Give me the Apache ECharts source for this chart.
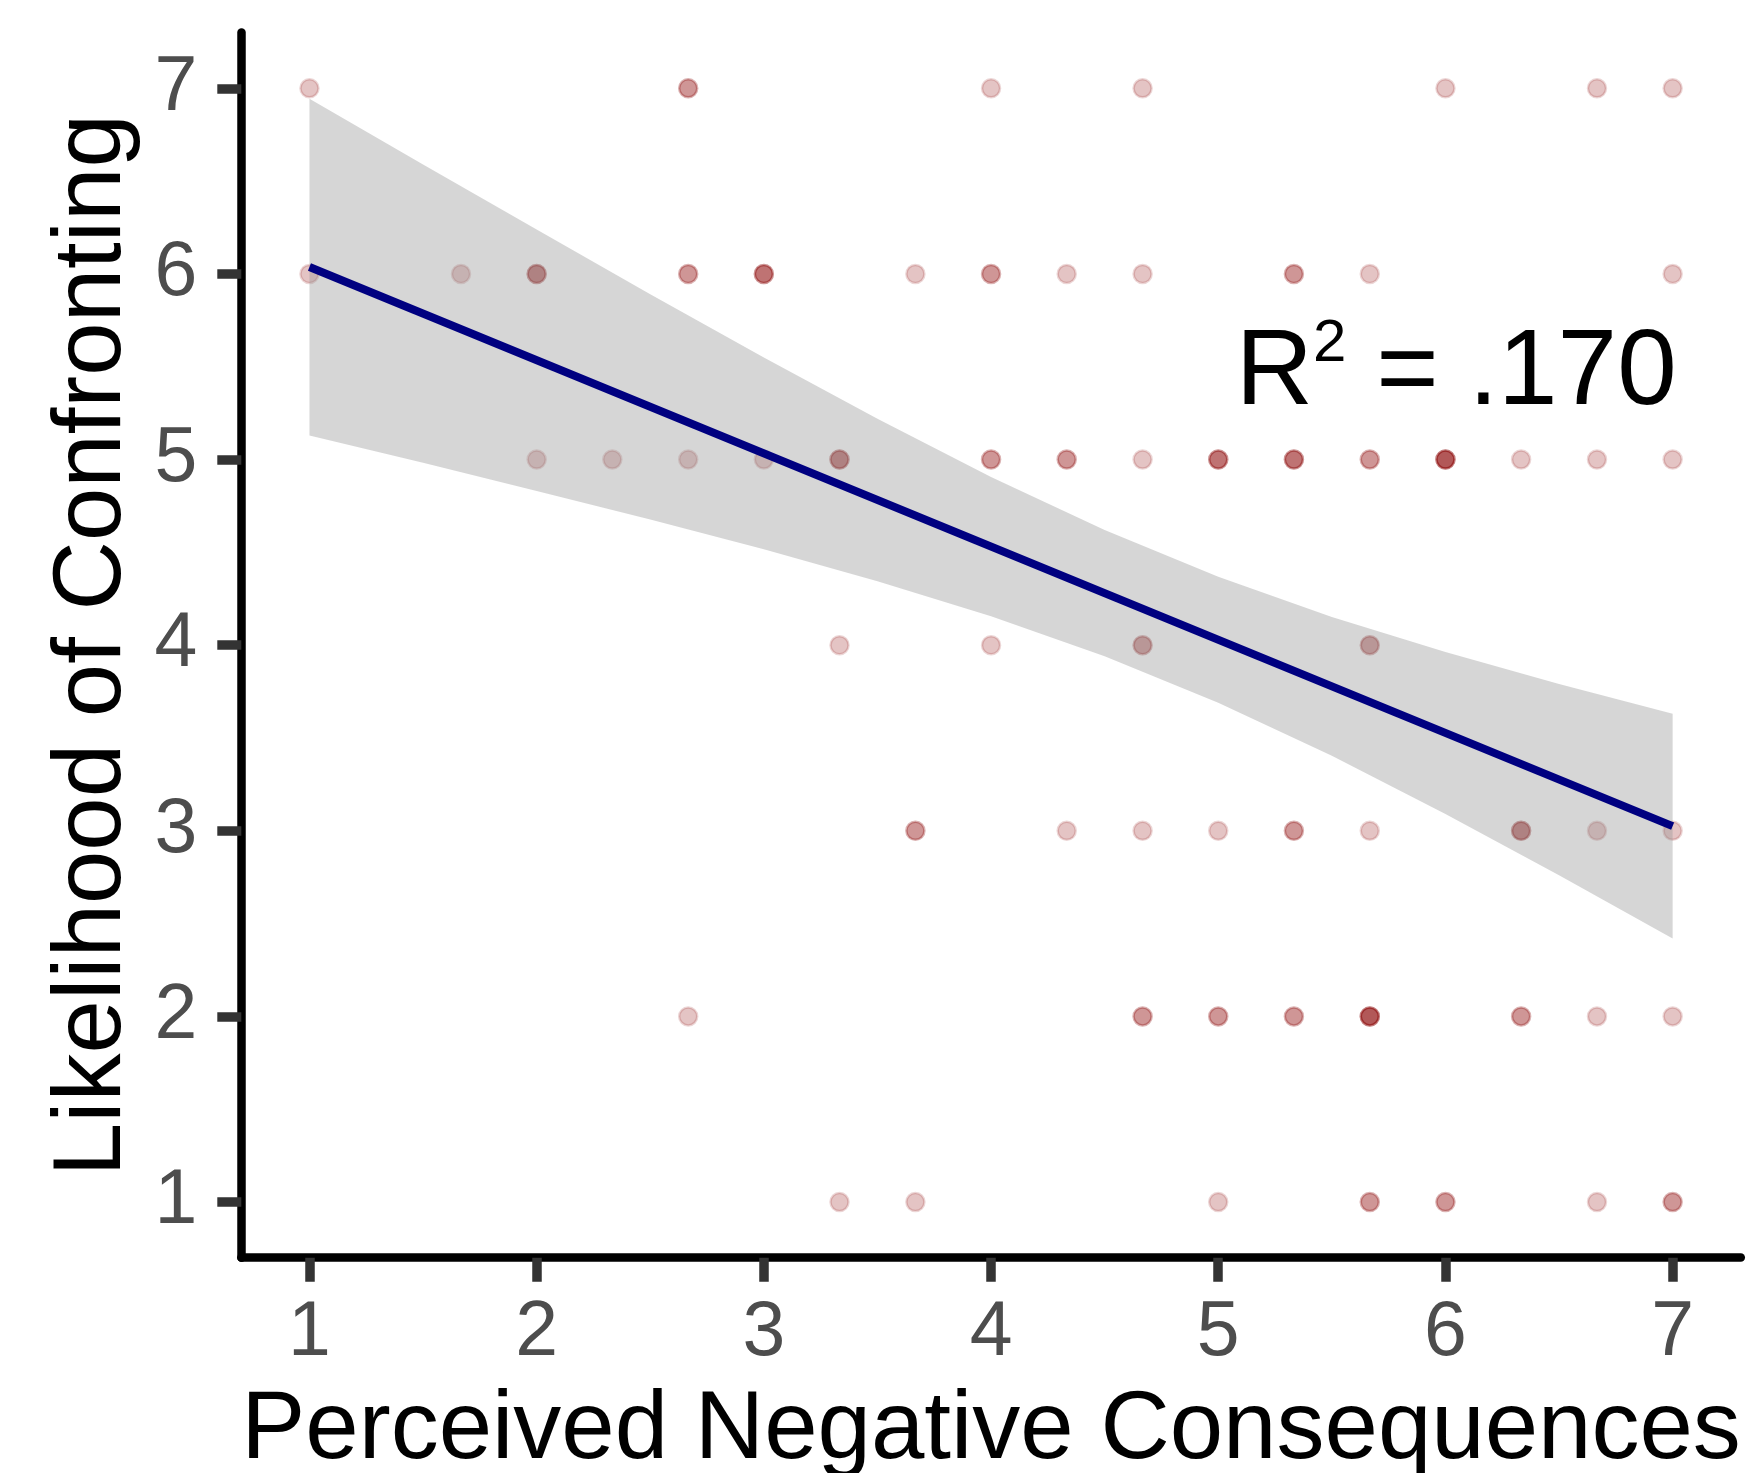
<!DOCTYPE html>
<html>
<head>
<meta charset="utf-8">
<script src="https://cdn.jsdelivr.net/npm/echarts@6/dist/echarts.min.js"></script>
<style>
html,body{margin:0;padding:0;background:#ffffff;}
#chart{width:1752px;height:1473px;}
</style>
</head>
<body>
<div id="chart"></div>
<script>
// ---- tick values / labels ----
const tickValues = [1, 2, 3, 4, 5, 6, 7];
const tickLabels = ['1', '2', '3', '4', '5', '6', '7'];

// ---- responses: Perceived Negative Consequences (x) for each Likelihood level (y) ----
// repeated values = overlapping respondents (darker dots)
const likelihoodLevels = [7, 6, 5, 4, 3, 2, 1];
const consequencesAt7 = [1, 2.667, 2.667, 4, 4.667, 6, 6.667, 7];
const consequencesAt6 = [1, 1.667, 2, 2, 2, 2.667, 2.667, 3, 3, 3, 3.667, 4, 4, 4.333, 4.667, 5.333, 5.333, 5.667, 7];
const consequencesAt5 = [2, 2.333, 2.667, 3, 3.333, 3.333, 3.333, 4, 4, 4.333, 4.333, 4.667, 5, 5, 5, 5.333, 5.333, 5.333, 5.667, 5.667, 6, 6, 6, 6, 6.333, 6.667, 7];
const consequencesAt4 = [3.333, 4, 4.667, 4.667, 5.667, 5.667];
const consequencesAt3 = [3.667, 3.667, 4.333, 4.667, 5, 5.333, 5.333, 5.667, 6.333, 6.333, 6.333, 6.667, 7];
const consequencesAt2 = [2.667, 4.667, 4.667, 5, 5, 5.333, 5.333, 5.667, 5.667, 5.667, 5.667, 6.333, 6.333, 6.667, 7];
const consequencesAt1 = [3.333, 3.667, 5, 5.667, 5.667, 6, 6, 6.667, 7, 7];

// ---- fitted regression line and 95% confidence band ----
const fitX = [1, 7];
const fitY = [6.037, 3.025];
const ciX     = [1,     1.5,   2,     2.5,   3,     3.5,   4,     4.5,   5,     5.5,   6,     6.5,   7];
const ciUpper = [6.944, 6.590, 6.239, 5.891, 5.550, 5.220, 4.906, 4.620, 4.368, 4.152, 3.963, 3.791, 3.630];
const ciLower = [5.130, 4.982, 4.831, 4.677, 4.516, 4.344, 4.156, 3.940, 3.690, 3.404, 3.091, 2.761, 2.420];

// R-squared annotation text parts
const annotationBase = 'R';
const annotationSup = '2';
const annotationRest = ' = .170';

// ---- build series data ----
const rows = [consequencesAt7, consequencesAt6, consequencesAt5, consequencesAt4, consequencesAt3, consequencesAt2, consequencesAt1];
const points = [];
rows.forEach((r, i) => r.forEach(x => points.push([x, likelihoodLevels[i]])));
const fitData = fitX.map((x, i) => [x, fitY[i]]);

const FONT = "'Liberation Sans', Arial, Helvetica, sans-serif";

const chart = echarts.init(document.getElementById('chart'), null, {renderer: 'canvas'});
chart.setOption({
  animation: false,
  backgroundColor: '#ffffff',
  grid: {left: 241.3, right: 11.2, top: 32.6, bottom: 215.3, containLabel: false, outerBoundsMode: 'none'},
  xAxis: {
    type: 'value', min: 0.7, max: 7.3,
    name: 'Perceived Negative Consequences',
    nameLocation: 'middle', nameGap: 126,
    nameTextStyle: {fontSize: 96, color: '#000000', fontFamily: FONT},
    axisLine: {show: true, lineStyle: {color: '#000000', width: 8.5}},
    axisTick: {show: true, customValues: tickValues, length: 24, lineStyle: {color: '#333333', width: 9.5}},
    axisLabel: {show: true, customValues: tickValues, margin: 38, fontSize: 77, color: '#4d4d4d', fontFamily: FONT,
      formatter: v => tickLabels[tickValues.indexOf(Math.round(v))]},
    splitLine: {show: false}
  },
  yAxis: {
    type: 'value', min: 0.7, max: 7.3,
    name: 'Likelihood of Confronting',
    nameLocation: 'middle', nameGap: 100, nameRotate: 90,
    nameTextStyle: {fontSize: 96, color: '#000000', fontFamily: FONT},
    axisLine: {show: true, lineStyle: {color: '#000000', width: 8.5}},
    axisTick: {show: true, customValues: tickValues, length: 24, lineStyle: {color: '#333333', width: 9.5}},
    axisLabel: {show: true, customValues: tickValues, margin: 44, fontSize: 77, color: '#4d4d4d', fontFamily: FONT,
      formatter: v => tickLabels[tickValues.indexOf(Math.round(v))]},
    splitLine: {show: false}
  },
  series: [
    {
      type: 'scatter', z: 2, silent: true,
      data: points,
      symbol: 'circle', symbolSize: 18,
      itemStyle: {color: 'rgba(139,0,0,0.23)', borderColor: 'rgba(139,0,0,0.16)', borderWidth: 2.5, opacity: 1}
    },
    {
      type: 'custom', z: 3, silent: true,
      data: [[ciX[0], ciUpper[0]]],
      renderItem: (params, api) => {
        const pts = [];
        for (let i = 0; i < ciX.length; i++) pts.push(api.coord([ciX[i], ciUpper[i]]));
        for (let i = ciX.length - 1; i >= 0; i--) pts.push(api.coord([ciX[i], ciLower[i]]));
        return {type: 'polygon', shape: {points: pts}, style: {fill: 'rgba(153,153,153,0.4)', stroke: null}};
      }
    },
    {
      type: 'line', z: 4, silent: true,
      data: fitData, symbol: 'none',
      lineStyle: {color: '#000080', width: 8, cap: 'butt'}
    },
    {
      type: 'scatter', z: 5, silent: true,
      data: [[7, 5.46]], symbolSize: 0,
      itemStyle: {opacity: 1},
      label: {
        show: true, position: 'left', distance: -4, opacity: 1,
        formatter: '{m|' + annotationBase + '}{s|' + annotationSup + '}{m|' + annotationRest + '}',
        rich: {
          m: {fontSize: 107, lineHeight: 120, color: '#000000', fontFamily: FONT, verticalAlign: 'middle'},
          s: {fontSize: 60, lineHeight: 75, color: '#000000', fontFamily: FONT, verticalAlign: 'top'}
        }
      }
    }
  ]
});
</script>
</body>
</html>
